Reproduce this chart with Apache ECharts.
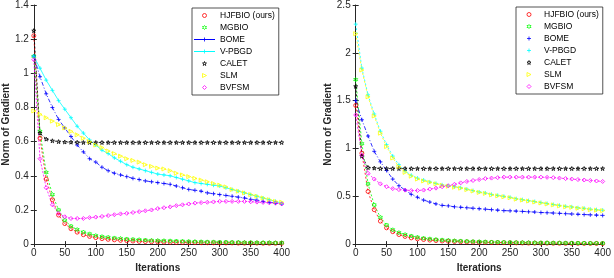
<!DOCTYPE html>
<html>
<head>
<meta charset="utf-8">
<script src="https://cdn.jsdelivr.net/npm/echarts@6/dist/echarts.min.js"></script>
<style>html,body{margin:0;padding:0;background:#fff}#c{width:614px;height:278px}</style>
</head>
<body>
<div id="c"></div>
<script>
var iters = [0,10,20,30,40,50,60,70,80,90,100,110,120,130,140,150,160,170,180,190,200,210,220,230,240,250,260,270,280,290,300,310,320,330,340,350,360,370,380,390,400];
var names = ['HJFBIO (ours)','MGBIO','BOME','V-PBGD','CALET','SLM','BVFSM'];
var colors = ['#ff0000','#00ff00','#0000ff','#00ffff','#000000','#ffff00','#ff00ff'];
var leftTicks = [0,0.2,0.4,0.6,0.8,1,1.2,1.4];
var rightTicks = [0,0.5,1,1.5,2,2.5];
var xTicks = [0,50,100,150,200,250,300,350,400];

var L_HJFBIO = [1.22,0.62,0.38,0.26,0.17,0.12,0.09,0.07,0.055,0.045,0.038,0.032,0.028,0.025,0.022,0.02,0.018,0.016,0.015,0.014,0.013,0.012,0.011,0.01,0.01,0.009,0.009,0.008,0.008,0.008,0.007,0.007,0.007,0.006,0.006,0.006,0.006,0.005,0.005,0.005,0.005];
var L_MGBIO = [1.1,0.66,0.42,0.29,0.2,0.14,0.105,0.085,0.07,0.06,0.05,0.044,0.04,0.036,0.033,0.03,0.028,0.026,0.024,0.022,0.021,0.02,0.019,0.018,0.017,0.016,0.015,0.014,0.013,0.013,0.012,0.012,0.011,0.011,0.01,0.01,0.009,0.009,0.009,0.008,0.008];
var L_BOME = [1.1,0.98,0.88,0.8,0.73,0.68,0.63,0.58,0.54,0.5,0.48,0.45,0.43,0.415,0.405,0.395,0.385,0.378,0.37,0.365,0.36,0.355,0.35,0.34,0.33,0.32,0.315,0.31,0.3,0.295,0.29,0.285,0.28,0.275,0.27,0.262,0.257,0.25,0.245,0.24,0.235];
var L_VPBGD = [1.1,1.03,0.96,0.9,0.84,0.79,0.74,0.69,0.65,0.61,0.58,0.55,0.53,0.505,0.485,0.465,0.45,0.44,0.43,0.42,0.41,0.405,0.4,0.39,0.38,0.37,0.36,0.355,0.35,0.345,0.34,0.33,0.32,0.31,0.3,0.29,0.28,0.27,0.26,0.25,0.24];
var L_CALET = [1.25,0.65,0.615,0.605,0.6,0.598,0.597,0.596,0.595,0.595,0.595,0.595,0.595,0.595,0.595,0.595,0.595,0.595,0.595,0.595,0.595,0.595,0.595,0.595,0.595,0.595,0.595,0.595,0.595,0.595,0.595,0.595,0.595,0.595,0.595,0.595,0.595,0.595,0.595,0.595,0.595];
var L_SLM = [0.78,0.76,0.74,0.72,0.7,0.68,0.66,0.64,0.62,0.6,0.58,0.565,0.545,0.53,0.515,0.5,0.49,0.48,0.465,0.455,0.445,0.44,0.43,0.415,0.405,0.395,0.385,0.375,0.365,0.355,0.345,0.335,0.32,0.31,0.3,0.29,0.28,0.27,0.26,0.25,0.245];
var L_BVFSM = [1.08,0.5,0.33,0.23,0.18,0.16,0.15,0.15,0.15,0.155,0.158,0.162,0.167,0.172,0.177,0.18,0.185,0.19,0.195,0.2,0.208,0.213,0.218,0.225,0.23,0.235,0.24,0.243,0.245,0.247,0.25,0.25,0.25,0.25,0.25,0.248,0.246,0.244,0.242,0.24,0.235];

var R_HJFBIO = [1.45,0.95,0.55,0.36,0.24,0.17,0.13,0.1,0.08,0.065,0.055,0.048,0.042,0.037,0.033,0.03,0.027,0.025,0.023,0.021,0.019,0.018,0.017,0.016,0.015,0.014,0.013,0.012,0.011,0.011,0.01,0.01,0.009,0.009,0.008,0.008,0.008,0.007,0.007,0.007,0.006];
var R_MGBIO = [1.72,1.05,0.63,0.41,0.28,0.2,0.15,0.12,0.1,0.085,0.072,0.062,0.055,0.049,0.044,0.04,0.036,0.033,0.03,0.028,0.026,0.024,0.022,0.021,0.02,0.019,0.018,0.017,0.016,0.015,0.014,0.014,0.013,0.013,0.012,0.012,0.011,0.011,0.01,0.01,0.01];
var R_BOME = [1.5,1.3,1.13,0.97,0.86,0.77,0.68,0.61,0.565,0.52,0.49,0.46,0.44,0.42,0.405,0.4,0.39,0.385,0.38,0.375,0.37,0.365,0.36,0.355,0.35,0.348,0.345,0.342,0.338,0.335,0.33,0.328,0.325,0.322,0.318,0.315,0.312,0.309,0.306,0.303,0.3];
var R_VPBGD = [2.3,1.84,1.56,1.36,1.18,1.04,0.92,0.83,0.765,0.72,0.69,0.67,0.65,0.635,0.62,0.61,0.6,0.59,0.575,0.56,0.545,0.535,0.52,0.51,0.5,0.49,0.475,0.465,0.455,0.445,0.435,0.425,0.415,0.405,0.395,0.39,0.38,0.375,0.365,0.36,0.355];
var R_CALET = [1.65,0.92,0.8,0.795,0.79,0.79,0.79,0.79,0.79,0.79,0.79,0.79,0.79,0.79,0.79,0.79,0.79,0.79,0.79,0.79,0.79,0.79,0.79,0.79,0.79,0.79,0.79,0.79,0.79,0.79,0.79,0.79,0.79,0.79,0.79,0.79,0.79,0.79,0.79,0.79,0.79];
var R_SLM = [2.2,1.82,1.54,1.34,1.16,1.02,0.9,0.81,0.75,0.71,0.68,0.66,0.645,0.63,0.615,0.605,0.595,0.585,0.57,0.555,0.54,0.53,0.515,0.505,0.495,0.485,0.47,0.46,0.45,0.44,0.43,0.42,0.41,0.4,0.39,0.385,0.375,0.37,0.36,0.355,0.35];
var R_BVFSM = [1.35,0.93,0.74,0.68,0.63,0.6,0.58,0.57,0.565,0.56,0.56,0.565,0.575,0.585,0.6,0.61,0.625,0.64,0.655,0.665,0.675,0.685,0.69,0.695,0.7,0.7,0.7,0.7,0.7,0.7,0.7,0.698,0.695,0.69,0.685,0.68,0.675,0.67,0.665,0.66,0.655];

var leftData = [L_HJFBIO,L_MGBIO,L_BOME,L_VPBGD,L_CALET,L_SLM,L_BVFSM];
var rightData = [R_HJFBIO,R_MGBIO,R_BOME,R_VPBGD,R_CALET,R_SLM,R_BVFSM];

var FONT = 'Liberation Sans, Arial, sans-serif';
var symbols = [
  'path://M10,5A5,5,0,1,1,0,5A5,5,0,1,1,10,5Z',
  'path://M5,0L6.5,2.5L9.3,2.5L7.9,5L9.3,7.5L6.5,7.5L5,10L3.5,7.5L0.7,7.5L2.1,5L0.7,2.5L3.5,2.5Z',
  'path://M0,5L10,5M5,0L5,10',
  'path://M0,5L10,5M5,0L5,10',
  'path://M5,0L6.2,3.6L10,3.6L6.9,5.9L8.1,9.5L5,7.3L1.9,9.5L3.1,5.9L0,3.6L3.8,3.6Z',
  'path://M0,0L10,5L0,10Z',
  'path://M5,0L10,5L5,10L0,5Z'
];
var leftDash = [[2,2],[2,2],[4,2,1,2],'solid',[2,2],[2,2],[2,1.5]];
var rightDash = [[2,2],[2,2],[4,2,1,2],[2,2],[2,2],[2,2],[2,2]];
// suffixes keep the two charts' series (and legends) independent of each other
var leftSuffix = '';
var rightSuffix = '\u200b';

function fmt(v){ return String(+v.toFixed(1)); }

function xAxes(gi){
  return [
    {gridIndex:gi, type:'value', min:0, max:400, interval:50, position:'bottom',
     name:'Iterations', nameLocation:'middle', nameGap:18,
     nameTextStyle:{fontFamily:FONT,fontSize:10,fontWeight:'bold',color:'#262626'},
     axisLine:{lineStyle:{color:'#262626',width:1}},
     axisTick:{inside:true,length:3,lineStyle:{color:'#262626'}},
     axisLabel:{fontFamily:FONT,fontSize:10,color:'#262626',margin:4,formatter:function(v){return String(v);}},
     splitLine:{show:false}},
    {gridIndex:gi, type:'value', min:0, max:400, interval:50, position:'top',
     axisLine:{lineStyle:{color:'#262626',width:1}},
     axisTick:{inside:true,length:3,lineStyle:{color:'#262626'}},
     axisLabel:{show:false}, splitLine:{show:false}}
  ];
}
function yAxes(gi, max, interval, gap){
  return [
    {gridIndex:gi, type:'value', min:0, max:max, interval:interval, position:'left',
     name:'Norm of Gradient', nameLocation:'middle', nameGap:gap,
     nameTextStyle:{fontFamily:FONT,fontSize:10,fontWeight:'bold',color:'#262626'},
     axisLine:{show:true,lineStyle:{color:'#262626',width:1}},
     axisTick:{show:true,inside:true,length:3,lineStyle:{color:'#262626'}},
     axisLabel:{fontFamily:FONT,fontSize:10,color:'#262626',margin:5,formatter:fmt},
     splitLine:{show:false}},
    {gridIndex:gi, type:'value', min:0, max:max, interval:interval, position:'right',
     axisLine:{show:false},
     axisTick:{show:true,inside:true,length:3,lineStyle:{color:'#262626'}},
     axisLabel:{show:false}, splitLine:{show:false}}
  ];
}

var series = [];
function addSeries(dataSets, xi, yi, dashes, suffix){
  for (var i=0;i<names.length;i++){
    var pts = [];
    for (var k=0;k<iters.length;k++) pts.push([iters[k], dataSets[i][k]]);
    series.push({
      type:'line', name:names[i] + suffix, xAxisIndex:xi, yAxisIndex:yi, data:pts,
      symbol:symbols[i], symbolSize:4, showSymbol:true,
      itemStyle:{color:'rgba(0,0,0,0)', borderColor:colors[i], borderWidth:0.8},
      lineStyle:{color:colors[i], width:0.8, type:dashes[i]},
      emphasis:{disabled:true}, silent:true
    });
  }
}
addSeries(leftData, 0, 0, leftDash, leftSuffix);
addSeries(rightData, 2, 2, rightDash, rightSuffix);

function makeLegend(left, top, itemWidth, padding, showLines, suffix){
  return {
    orient:'vertical', left:left, top:top, itemWidth:itemWidth, itemHeight:5, itemGap:3,
    padding:padding, selectedMode:false,
    borderColor:'#262626', borderWidth:0.8, backgroundColor:'#fff', borderRadius:0,
    itemStyle:{color:'rgba(255,255,255,0)', borderWidth:0.8},
    textStyle:{fontFamily:FONT,fontSize:8.5,color:'#000',lineHeight:8},
    formatter:function(n){ return n.replace(/\u200b/g, ''); },
    data: names.map(function(n, i){
      var lineOn = showLines && (i===2 || i===3);
      return {name:n + suffix,
        lineStyle: lineOn ? {type:'solid', width:1, opacity:1, color:colors[i]} : {opacity:0, color:'rgba(0,0,0,0)'}};
    })
  };
}

var option = {
  animation:false,
  backgroundColor:'#fff',
  grid:[
    {left:30.7, right:332.3, top:4, bottom:28.7},
    {left:355.7, right:7.3, top:4, bottom:28.7}
  ],
  xAxis: xAxes(0).concat(xAxes(1)),
  yAxis: yAxes(0, 1.4, 0.2, 20).concat(yAxes(1, 2.5, 0.5, 19)),
  legend:[
    makeLegend(192, 8, 21, [3,4,3,1], true, leftSuffix),
    makeLegend(516, 7, 20, [3,4,3,2], false, rightSuffix)
  ],
  series: series
};
var chart = echarts.init(document.getElementById('c'), null, {renderer:'canvas'});
chart.setOption(option);
</script>
</body>
</html>
